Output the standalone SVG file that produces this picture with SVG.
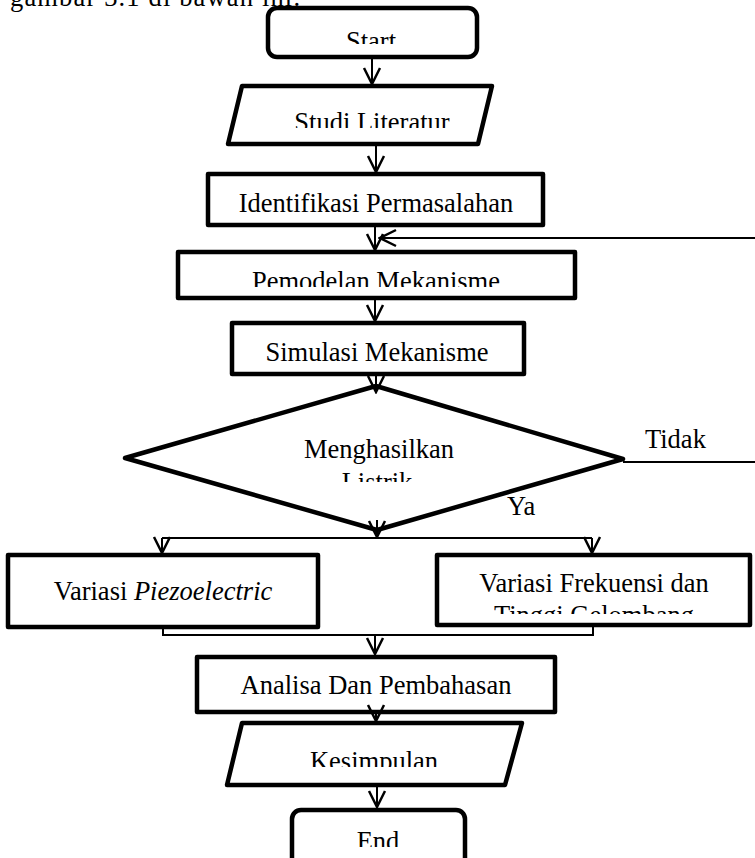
<svg xmlns="http://www.w3.org/2000/svg" width="755" height="858" viewBox="0 0 755 858">
<defs>
<style>
.box{fill:#fff;stroke:#000;stroke-width:4.5;stroke-linejoin:round}
.ln{fill:none;stroke:#000;stroke-width:2}
.ar{fill:none;stroke:#000;stroke-width:2;marker-end:url(#ah)}
text{font-family:"Liberation Serif","Times New Roman",serif;font-size:26.5px;fill:#000}
.c{text-anchor:middle}
</style>
<marker id="ah" markerUnits="userSpaceOnUse" viewBox="-18 -10 20 20" refX="0" refY="0" markerWidth="20" markerHeight="20" orient="auto">
<path d="M-16,-8 L0,0 L-16,8" fill="none" stroke="#000" stroke-width="2.5"/>
</marker>
<clipPath id="cStart"><rect x="0" y="0" width="755" height="44"/></clipPath>
<clipPath id="cStudi"><rect x="0" y="0" width="755" height="128"/></clipPath>
<clipPath id="cPemo"><rect x="0" y="0" width="755" height="287"/></clipPath>
<clipPath id="cList"><rect x="0" y="0" width="755" height="482"/></clipPath>
<clipPath id="cTing"><rect x="0" y="0" width="755" height="614"/></clipPath>
<clipPath id="cKes"><rect x="0" y="0" width="755" height="767"/></clipPath>
<clipPath id="cEnd"><rect x="0" y="0" width="755" height="847"/></clipPath>
</defs>
<rect width="755" height="858" fill="#fff"/>
<text id="caption" x="10" y="5.5" textLength="290" lengthAdjust="spacing">gambar 3.1 di bawah ini.</text>

<g id="start">
<rect class="box" x="268" y="8" width="209" height="49" rx="9"/>
<text class="c" x="371" y="49.5" clip-path="url(#cStart)">Start</text>
</g>
<g id="studi-literatur">
<polygon class="box" points="242,86 492,86 478,144 228,144"/>
<text class="c" x="372" y="130.5" clip-path="url(#cStudi)">Studi Literatur</text>
</g>
<g id="identifikasi">
<rect class="box" x="208" y="174" width="335" height="51"/>
<text class="c" x="376" y="212">Identifikasi Permasalahan</text>
</g>
<g id="pemodelan">
<rect class="box" x="178" y="252" width="397" height="46"/>
<text class="c" x="376" y="289.5" clip-path="url(#cPemo)">Pemodelan Mekanisme</text>
</g>
<g id="simulasi">
<rect class="box" x="232" y="323" width="292" height="51"/>
<text class="c" x="377" y="361">Simulasi Mekanisme</text>
</g>
<g id="keputusan">
<polygon class="box" points="376,386 623,459 377,530 125,458"/>
<text class="c" x="379" y="458">Menghasilkan</text>
<text class="c" x="377" y="490.5" clip-path="url(#cList)">Listrik</text>
</g>
<g id="variasi-piezo">
<rect class="box" x="8" y="555" width="310" height="72"/>
<text class="c" x="163" y="600">Variasi <tspan font-style="italic">Piezoelectric</tspan></text>
</g>
<g id="variasi-frekuensi">
<rect class="box" x="437" y="555" width="313" height="70"/>
<text class="c" x="594" y="592">Variasi Frekuensi dan</text>
<text class="c" x="594" y="624" clip-path="url(#cTing)">Tinggi Gelombang</text>
</g>
<g id="analisa">
<rect class="box" x="197" y="657" width="358" height="55"/>
<text class="c" x="376" y="694">Analisa Dan Pembahasan</text>
</g>
<g id="kesimpulan">
<polygon class="box" points="242,723 522,723 505,785 227,785"/>
<text class="c" x="374" y="769.5" clip-path="url(#cKes)">Kesimpulan</text>
</g>
<g id="end">
<rect class="box" x="292" y="810" width="173" height="70" rx="9"/>
<text class="c" x="378" y="849.5" clip-path="url(#cEnd)">End</text>
</g>

<g id="connectors">
<path class="ar" d="M372,57 V84"/>
<path class="ar" d="M376,144 V172"/>
<path class="ar" d="M375,225 V250"/>
<path class="ar" d="M755,238 H380"/>
<path class="ar" d="M375,298 V321"/>
<path class="ar" d="M376,374 V392"/>
<path class="ar" d="M377,520 V537"/>
<path class="ln" d="M162,538 H592"/>
<path class="ar" d="M162,538 V553"/>
<path class="ar" d="M592,538 V553"/>
<path class="ln" d="M163,627 V635 H593 V625"/>
<path class="ar" d="M375,635 V654"/>
<path class="ar" d="M376,712 V721"/>
<path class="ar" d="M377,785 V807"/>
<path class="ln" d="M623,462 H755"/>
<text x="645" y="448">Tidak</text>
<text x="507" y="515">Ya</text>
</g>
</svg>
